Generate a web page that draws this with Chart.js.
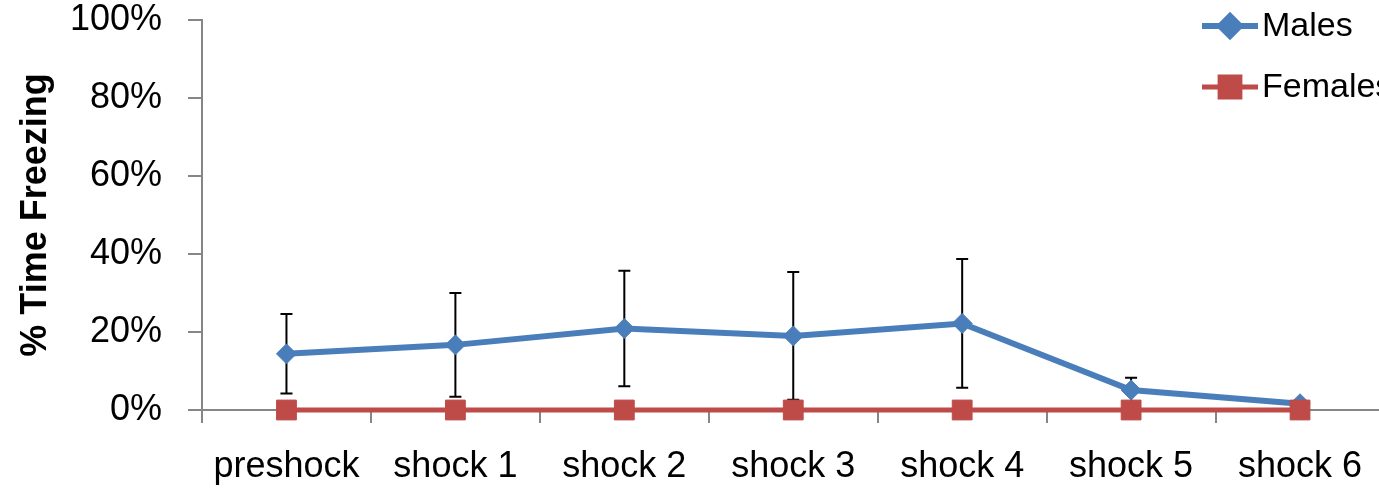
<!DOCTYPE html>
<html>
<head>
<meta charset="utf-8">
<script src="https://cdn.jsdelivr.net/npm/chart.js@4"></script>
<style>
  html, body { margin: 0; padding: 0; background: #fff; overflow: hidden; }
  #grafico { display: block; }
</style>
</head>
<body>
<canvas id="grafico" width="1400" height="492"></canvas>
<script>
const CATEGORIAS = ["preshock", "shock 1", "shock 2", "shock 3", "shock 4", "shock 5", "shock 6"];
const MACHOS = [14.4, 16.7, 20.9, 19.0, 22.2, 5.1, 1.6];
const MACHOS_ERR = [10.2, 13.3, 14.8, 16.4, 16.5, 3.2, 0.8];
const HEMBRAS = [0, 0, 0, 0, 0, 0, 0];
const HEMBRAS_ERR = [0, 0, 0, 0, 0, 0, 0];
const TICKS_Y = [0, 20, 40, 60, 80, 100];

const COLOR_AZUL = "#4a7ebb";
const COLOR_ROJO = "#be4b48";
const COLOR_EJE = "#868686";
const FUENTE = "'Liberation Sans', Arial, sans-serif";

// barras de error por detras de los marcadores
const barrasError = {
  id: "barrasError",
  beforeDatasetsDraw(chart) {
    const ctx = chart.ctx;
    const y = chart.scales.y;
    ctx.save();
    ctx.strokeStyle = "#000";
    ctx.lineWidth = 2;
    chart.data.datasets.forEach((ds, i) => {
      const meta = chart.getDatasetMeta(i);
      meta.data.forEach((pt, j) => {
        const e = ds.errores[j];
        if (!e) return;
        const y1 = y.getPixelForValue(ds.data[j] + e);
        const y2 = y.getPixelForValue(ds.data[j] - e);
        ctx.beginPath();
        ctx.moveTo(pt.x, y1); ctx.lineTo(pt.x, y2);
        ctx.moveTo(pt.x - 6, y1); ctx.lineTo(pt.x + 6, y1);
        ctx.moveTo(pt.x - 6, y2); ctx.lineTo(pt.x + 6, y2);
        ctx.stroke();
      });
    });
    ctx.restore();
  },
};

// leyenda a la derecha, encima del area de datos
const leyenda = {
  id: "leyenda",
  afterDraw(chart) {
    const ctx = chart.ctx;
    ctx.save();
    const filas = [26, 87];
    chart.data.datasets.forEach((ds, i) => {
      const yy = filas[i];
      ctx.strokeStyle = ds.borderColor;
      ctx.lineWidth = ds.borderWidth;
      ctx.beginPath();
      ctx.moveTo(1202, yy); ctx.lineTo(1258, yy);
      ctx.stroke();
      Chart.helpers.drawPoint(ctx, {
        pointStyle: ds.pointStyle, radius: ds.pointRadius, borderWidth: 1, rotation: 0,
      }, 1230, yy);
      ctx.fillStyle = ds.backgroundColor;
      ctx.fill();
      ctx.fillStyle = "#000";
      ctx.font = "34px " + FUENTE;
      ctx.textBaseline = "middle";
      ctx.textAlign = "left";
      ctx.fillText(ds.label, 1262, yy + 1);
    });
    ctx.restore();
  },
};

new Chart(document.getElementById("grafico"), {
  type: "line",
  data: {
    labels: CATEGORIAS,
    datasets: [
      {
        label: "Males",
        data: MACHOS,
        errores: MACHOS_ERR,
        borderColor: COLOR_AZUL,
        backgroundColor: COLOR_AZUL,
        pointBackgroundColor: COLOR_AZUL,
        pointBorderColor: COLOR_AZUL,
        borderWidth: 6,
        pointStyle: "rectRot",
        pointRadius: 10,
        pointBorderWidth: 1,
        tension: 0,
        clip: false,
        order: 1,
      },
      {
        label: "Females",
        data: HEMBRAS,
        errores: HEMBRAS_ERR,
        borderColor: COLOR_ROJO,
        backgroundColor: COLOR_ROJO,
        pointBackgroundColor: COLOR_ROJO,
        pointBorderColor: COLOR_ROJO,
        borderWidth: 5,
        pointStyle: "rect",
        pointRadius: 14,
        pointBorderWidth: 1,
        tension: 0,
        clip: false,
        order: 0,
      },
    ],
  },
  options: {
    responsive: false,
    animation: false,
    layout: { padding: { top: 20, right: 15.5, left: 0, bottom: 0 } },
    plugins: {
      legend: { display: false },
      tooltip: { enabled: false },
    },
    scales: {
      x: {
        offset: true,
        afterFit: (s) => { s.height = 82; s.paddingLeft = 0; s.paddingRight = 0; },
        grid: { offset: true, drawOnChartArea: false, tickLength: 13, color: COLOR_EJE, lineWidth: 2 },
        border: { color: COLOR_EJE, width: 2 },
        ticks: { color: "#000", font: { family: FUENTE, size: 36 }, padding: 22, maxRotation: 0, autoSkip: false },
      },
      y: {
        min: 0,
        max: 100,
        afterFit: (s) => { s.width = 202; s.paddingTop = 0; s.paddingBottom = 0; },
        afterBuildTicks: (s) => { s.ticks = TICKS_Y.map((v) => ({ value: v })); },
        grid: { drawOnChartArea: false, tickLength: 14, color: COLOR_EJE, lineWidth: 2 },
        border: { color: COLOR_EJE, width: 2 },
        ticks: { color: "#000", font: { family: FUENTE, size: 36 }, padding: 26, callback: (v) => v + "%" },
        title: {
          display: true,
          text: "% Time Freezing",
          color: "#000",
          font: { family: FUENTE, size: 36, weight: "bold" },
          padding: { top: 14, bottom: 0 },
        },
      },
    },
  },
  plugins: [barrasError, leyenda],
});
</script>
</body>
</html>
